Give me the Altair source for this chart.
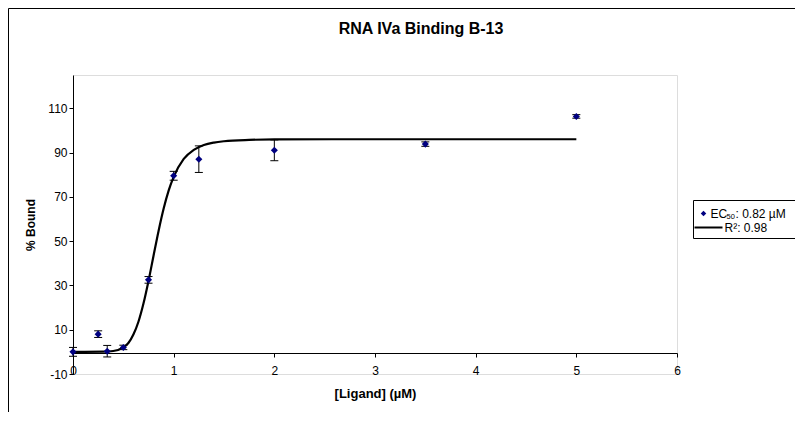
import altair as alt
import pandas as pd

# ---- data ----
conc = [0, 0.25, 0.34, 0.5, 0.75, 1.0, 1.25, 2.0, 3.5, 5.0]
bound = [0.0, 8.0, 0.3, 2.0, 32.5, 79.5, 87.0, 91.0, 93.8, 106.3]
err = [2.0, 1.5, 2.6, 1.0, 1.5, 2.0, 6.0, 4.7, 1.0, 0.8]

fit_x = [0, 0.3, 0.4, 0.5, 0.55, 0.6, 0.65, 0.7, 0.75, 0.8, 0.85, 0.9, 0.95,
         1.0, 1.1, 1.2, 1.3, 1.4, 1.5, 1.75, 2.0, 3.0, 4.0, 5.0]
fit_y = [0, 0.1, 0.4, 2.0, 4.0, 7.8, 13.6, 21.8, 32.0, 43.4, 54.6, 64.6, 72.8,
         79.0, 87.1, 91.2, 93.4, 94.5, 95.1, 95.7, 95.9, 96.0, 96.0, 96.0]

x_ticks = [0, 1, 2, 3, 4, 5, 6]
y_ticks = [-10, 10, 30, 50, 70, 90, 110]

title_text = "RNA IVa Binding B-13"
legend_ec = ["EC", "50", ": 0.82 µM"]
legend_r2 = "R²: 0.98"

FONT = "Liberation Sans"
W, H = 604, 299

pts = pd.DataFrame({"x": conc, "y": bound, "e": err})
pts["lo"] = pts["y"] - pts["e"]
pts["hi"] = pts["y"] + pts["e"]
fit = pd.DataFrame({"x": fit_x, "y": fit_y})
one = pd.DataFrame({"d": [0]})

xs = alt.Scale(domain=[0, 6], nice=False, zero=False)
ys = alt.Scale(domain=[-10, 125], nice=False, zero=False)

x_axis = alt.Axis(values=x_ticks, labelExpr="'' + datum.value", offset=-21, tickSize=4,
                  labelPadding=8, labelFlush=False, title="[Ligand] (µM)", titlePadding=11,
                  domainColor="black", tickColor="black", labelColor="black",
                  titleColor="black", labelFontSize=12, titleFontSize=13,
                  titleFontWeight="bold", grid=False)
y_axis = alt.Axis(values=y_ticks, labelExpr="'' + datum.value", tickSize=4, labelPadding=2,
                  title="% Bound", titlePadding=10, domainColor="black", tickColor="black",
                  labelColor="black", titleColor="black", labelFontSize=12,
                  titleFontSize=12, titleFontWeight="bold", grid=False)

frame = alt.Chart(one).mark_rect(filled=False, stroke="black", strokeWidth=1, clip=False).encode(
    x=alt.value(-64.5), x2=alt.value(W + 200), y=alt.value(-66.5), y2=alt.value(H + 200))

curve = alt.Chart(fit).mark_line(color="black", strokeWidth=2.2, interpolate="monotone").encode(
    x=alt.X("x:Q", scale=xs, axis=x_axis),
    y=alt.Y("y:Q", scale=ys, axis=y_axis))

bars = alt.Chart(pts).mark_rule(color="black", strokeWidth=1).encode(
    x=alt.X("x:Q", scale=xs), y=alt.Y("lo:Q", scale=ys), y2="hi:Q")
cap_lo = alt.Chart(pts).mark_tick(orient="horizontal", color="black", size=8, thickness=1, opacity=1).encode(
    x=alt.X("x:Q", scale=xs), y=alt.Y("lo:Q", scale=ys))
cap_hi = alt.Chart(pts).mark_tick(orient="horizontal", color="black", size=8, thickness=1, opacity=1).encode(
    x=alt.X("x:Q", scale=xs), y=alt.Y("hi:Q", scale=ys))

points = alt.Chart(pts).mark_point(shape="diamond", filled=True, color="#000080", size=50, opacity=1).encode(
    x=alt.X("x:Q", scale=xs), y=alt.Y("y:Q", scale=ys))

title = alt.Chart(one).mark_text(text=title_text, font=FONT, fontSize=16, fontWeight="bold",
                                 align="center", baseline="middle", color="black").encode(
    x=alt.value(348), y=alt.value(-46))

# legend (drawn by hand to allow sub/superscripts)
lx, ly = 620.5, 125.5
leg_box = alt.Chart(one).mark_rect(fill="white", stroke="black", strokeWidth=1, clip=False).encode(
    x=alt.value(lx), x2=alt.value(lx + 300), y=alt.value(ly), y2=alt.value(ly + 38))
leg_pt = alt.Chart(one).mark_point(shape="diamond", filled=True, color="#000080", size=30, opacity=1).encode(
    x=alt.value(lx + 10), y=alt.value(ly + 13))
leg_t1 = alt.Chart(one).mark_text(text=legend_ec[0], font=FONT, fontSize=12, align="left",
                                  baseline="middle", color="black").encode(
    x=alt.value(lx + 17), y=alt.value(ly + 13))
leg_t2 = alt.Chart(one).mark_text(text=legend_ec[1], font=FONT, fontSize=7.5, align="left",
                                  baseline="middle", color="black").encode(
    x=alt.value(lx + 33), y=alt.value(ly + 16))
leg_t3 = alt.Chart(one).mark_text(text=legend_ec[2], font=FONT, fontSize=12, align="left",
                                  baseline="middle", color="black").encode(
    x=alt.value(lx + 42), y=alt.value(ly + 13))
leg_line = alt.Chart(one).mark_rule(color="black", strokeWidth=2).encode(
    x=alt.value(lx + 1), x2=alt.value(lx + 29), y=alt.value(ly + 27), y2=alt.value(ly + 27))
leg_t4 = alt.Chart(one).mark_text(text=legend_r2, font=FONT, fontSize=12, align="left",
                                  baseline="middle", color="black").encode(
    x=alt.value(lx + 31), y=alt.value(ly + 27))

chart = alt.layer(
    frame, curve, bars, cap_lo, cap_hi, points, title,
    leg_box, leg_pt, leg_t1, leg_t2, leg_t3, leg_line, leg_t4
).properties(
    width=W, height=H,
    autosize=alt.AutoSizeParams(type="none"),
    padding={"left": 65, "top": 67, "right": 118, "bottom": 38},
).configure_view(
    stroke="#808080", strokeWidth=1
).configure(
    font=FONT
)

chart.save("out.html", embed_options={"renderer": "svg", "actions": False})
